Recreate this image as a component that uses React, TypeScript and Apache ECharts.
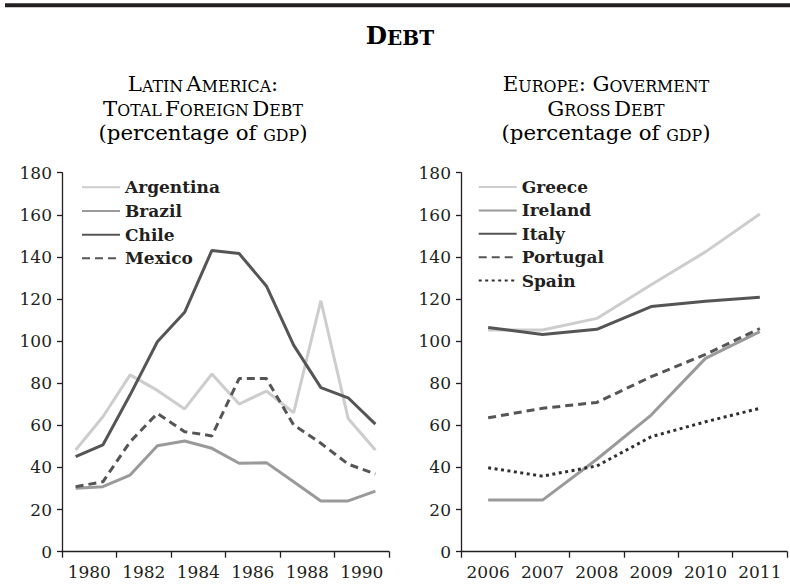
import React, { useEffect, useRef } from 'react';
import * as echarts from 'echarts';

const FONT = 'DejaVu Serif';
const INK = '#231f20';

// Latin America (12 annual points, labels every other year)
const latinTickLabels = ['1980', '1982', '1984', '1986', '1988', '1990'];
const argentina = [48.3, 64.1, 84.0, 76.6, 67.8, 84.4, 70.1, 76.3, 66.0, 119.2, 63.3, 48.3];
const brazil = [30.1, 30.9, 36.4, 50.3, 52.6, 49.1, 42.0, 42.3, 33.2, 24.1, 24.1, 28.8];
const chile = [45.1, 50.7, 74.5, 99.7, 113.7, 143.1, 141.6, 126.2, 98.1, 77.9, 73.1, 60.6];
const mexico = [30.9, 33.2, 52.2, 65.7, 57.0, 55.0, 82.2, 82.2, 60.2, 51.5, 41.6, 36.9];

// Europe
const europeYears = ['2006', '2007', '2008', '2009', '2010', '2011'];
const greece = [105.3, 105.3, 110.8, 126.8, 142.4, 160.4];
const ireland = [24.5, 24.5, 43.9, 64.9, 91.8, 104.5];
const italy = [106.5, 103.2, 105.6, 116.4, 119.0, 120.8];
const portugal = [63.6, 68.1, 70.9, 83.1, 93.7, 106.0];
const spain = [39.9, 35.9, 40.7, 54.6, 61.7, 68.1];

const LIGHT = '#cdcdcd';
const MID = '#9a9a9a';
const DARK = '#555555';
const DOT = '#2f2f2f';

const toXY = (arr: number[]) => arr.map((v, i) => [i + 0.5, v]);

export default function App() {
  const ref = useRef<HTMLDivElement>(null);
  useEffect(() => {
    if (!ref.current) return;
    const chart = echarts.init(ref.current, undefined, { renderer: 'svg' });

    const big = { fontFamily: FONT, fontSize: 21.3, color: INK, lineHeight: 24.5, verticalAlign: 'bottom' };
    const small = { fontFamily: FONT, fontSize: 15.8, color: INK, lineHeight: 20.6, verticalAlign: 'bottom' };

    const yAxisCommon = {
      type: 'value',
      min: 0,
      max: 180,
      interval: 20,
      axisLine: { show: true, lineStyle: { color: INK, width: 1.3 } },
      axisTick: { show: true, inside: false, length: 5, lineStyle: { color: INK, width: 1.3 } },
      axisLabel: { fontFamily: FONT, fontSize: 17, color: INK, margin: 10 },
      splitLine: { show: false },
    };

    const legendCommon = {
      orient: 'vertical',
      itemWidth: 38,
      itemHeight: 20,
      itemStyle: { opacity: 0 },
      textStyle: { fontFamily: FONT, fontSize: 17, fontWeight: 'bold', color: INK, lineHeight: 20 },
      selectedMode: false,
    };

    const lineSeries = (name: string, data: any[], color: string, type: any, xi: number, yi: number) => ({
      name,
      type: 'line',
      data,
      xAxisIndex: xi,
      yAxisIndex: yi,
      symbol: 'none',
      showSymbol: false,
      lineStyle: { color, width: 3, type },
      itemStyle: { color },
    });

    chart.setOption({
      animation: false,
      graphic: [
        { type: 'rect', shape: { x: 5, y: 3.3, width: 785, height: 4 }, style: { fill: INK } },
        {
          type: 'text',
          x: 400,
          y: 33,
          style: {
            text: '{a|D}{b|EBT}',
            align: 'center',
            verticalAlign: 'middle',
            rich: {
              a: { fontFamily: FONT, fontSize: 24.5, fontWeight: 'bold', color: INK, lineHeight: 30, verticalAlign: 'bottom' },
              b: { fontFamily: FONT, fontSize: 20, fontWeight: 'bold', color: INK, lineHeight: 26.9, verticalAlign: 'bottom' },
            },
          },
        },
        {
          type: 'text',
          x: 203,
          y: 69.5,
          style: {
            text: '{b|L}{s|ATIN} {b|A}{s|MERICA}{b|:}\n{b|T}{s|OTAL} {b|F}{s|OREIGN} {b|D}{s|EBT}\n{b|(percentage of }{s|GDP}{b|)}',
            align: 'center',
            verticalAlign: 'top',
            rich: { b: big, s: small },
          },
        },
        {
          type: 'text',
          x: 606,
          y: 69.5,
          style: {
            text: '{b|E}{s|UROPE}{b|: G}{s|OVERMENT}\n{b|G}{s|ROSS} {b|D}{s|EBT}\n{b|(percentage of }{s|GDP}{b|)}',
            align: 'center',
            verticalAlign: 'top',
            rich: { b: big, s: small },
          },
        },
      ],
      legend: [
        {
          ...legendCommon,
          left: 76,
          top: 172.3,
          itemGap: 3.67,
          data: ['Argentina', 'Brazil', 'Chile', 'Mexico'],
        },
        {
          ...legendCommon,
          left: 472.7,
          top: 172,
          itemGap: 3.4,
          data: ['Greece', 'Ireland', 'Italy', 'Portugal', 'Spain'],
        },
      ],
      grid: [
        { left: 62, top: 172.7, width: 327, height: 379 },
        { left: 461, top: 172.7, width: 326, height: 379 },
      ],
      xAxis: [
        {
          type: 'value',
          gridIndex: 0,
          min: 0,
          max: 12,
          interval: 2,
          axisLine: { show: true, lineStyle: { color: INK, width: 1.3 } },
          axisTick: { show: true, inside: false, length: 6, lineStyle: { color: INK, width: 1.3 } },
          axisLabel: { show: false },
          splitLine: { show: false },
        },
        {
          type: 'value',
          gridIndex: 0,
          position: 'bottom',
          min: 0,
          max: 12,
          interval: 1,
          axisLine: { show: false },
          axisTick: { show: false },
          axisLabel: {
            fontFamily: FONT,
            fontSize: 17,
            color: INK,
            margin: 12,
            showMinLabel: true,
            showMaxLabel: true,
            formatter: (v: number) => (v % 2 === 1 ? latinTickLabels[(v - 1) / 2] : ''),
          },
          splitLine: { show: false },
        },
        {
          type: 'category',
          gridIndex: 1,
          data: europeYears,
          boundaryGap: true,
          axisLine: { show: true, lineStyle: { color: INK, width: 1.3 } },
          axisTick: { show: true, inside: false, length: 6, alignWithLabel: false, lineStyle: { color: INK, width: 1.3 } },
          axisLabel: { fontFamily: FONT, fontSize: 17, color: INK, margin: 12, interval: 0 },
          splitLine: { show: false },
        },
      ],
      yAxis: [
        { ...yAxisCommon, gridIndex: 0 },
        { ...yAxisCommon, gridIndex: 1 },
      ],
      series: [
        lineSeries('Argentina', toXY(argentina), LIGHT, 'solid', 0, 0),
        lineSeries('Brazil', toXY(brazil), MID, 'solid', 0, 0),
        lineSeries('Chile', toXY(chile), DARK, 'solid', 0, 0),
        lineSeries('Mexico', toXY(mexico), DARK, [8, 5], 0, 0),
        lineSeries('Greece', greece, LIGHT, 'solid', 2, 1),
        lineSeries('Ireland', ireland, MID, 'solid', 2, 1),
        lineSeries('Italy', italy, DARK, 'solid', 2, 1),
        lineSeries('Portugal', portugal, DARK, [8, 5], 2, 1),
        lineSeries('Spain', spain, DOT, [3, 3.5], 2, 1),
      ],
    });
    return () => chart.dispose();
  }, []);
  return (
    <div
      ref={ref}
      style={{ position: 'absolute', left: 0, top: 0, width: 790, height: 587, background: '#fff' }}
    />
  );
}
